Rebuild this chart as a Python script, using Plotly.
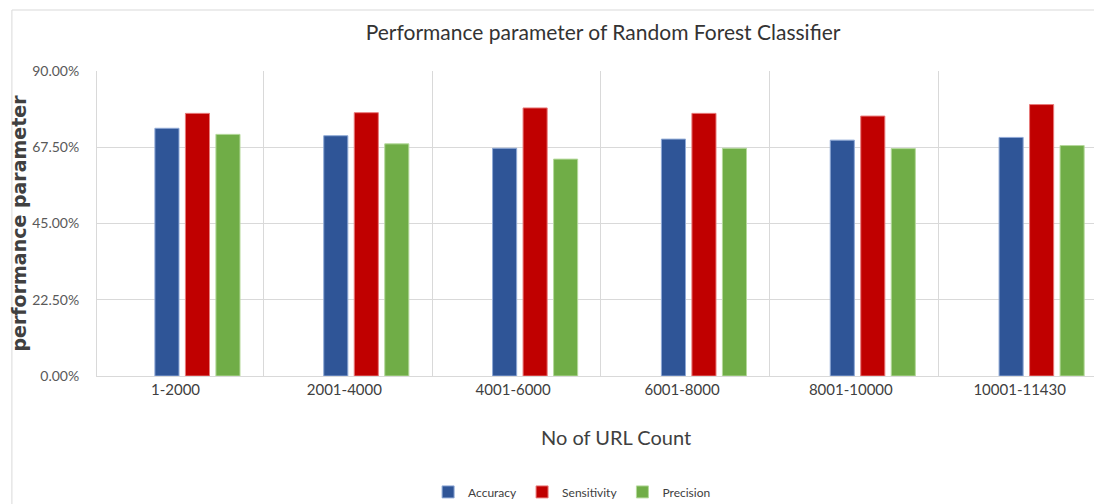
import plotly.graph_objects as go

categories = ["1-2000", "2001-4000", "4001-6000", "6001-8000", "8001-10000", "10001-11430"]
accuracy = [73.1, 70.9, 67.2, 69.9, 69.6, 70.4]
sensitivity = [77.5, 77.7, 79.1, 77.5, 76.7, 80.1]
precision = [71.3, 68.5, 64.0, 67.2, 67.1, 68.0]
y_ticks = [0, 22.5, 45, 67.5, 90]

x = list(range(len(categories)))
shift = 0.11  # bar groups sit slightly right of their labels in the original
fig = go.Figure()
for name, vals, col, edge in [
    ("Accuracy", accuracy, "#2F5597", "#8FA9D6"),
    ("Sensitivity", sensitivity, "#C00000", "#E87A7A"),
    ("Precision", precision, "#70AD47", "#B5D99C"),
]:
    fig.add_trace(go.Bar(x=x, y=vals, name=name, marker=dict(color=col, line=dict(color=edge, width=1))))

fig.update_layout(
    width=1102, height=504,
    margin=dict(l=89, r=0, t=63, b=136),
    paper_bgcolor="white", plot_bgcolor="white",
    barmode="group", bargap=0.458, bargroupgap=0.21,
    font=dict(family="Lato", color="#404040"),
    title=dict(text="Performance parameter of Random Forest Classifier",
               x=0.54, xanchor="center", y=0.952, yanchor="middle",
               font=dict(size=21, color="#333333", family="Lato")),
    legend=dict(orientation="h", x=0.469, xanchor="center", y=-0.38, yanchor="middle",
                font=dict(size=12, color="#404040"), itemwidth=30),
    xaxis=dict(range=[-0.5 - shift + 0.015, 5.5 - shift + 0.015], tickvals=[i - shift - 0.02 for i in x],
               ticktext=categories, showgrid=False,
               tickfont=dict(size=15, color="#404040"), ticks="",
               showline=True, linecolor="#D9D9D9", linewidth=1,
               minor=dict(tickvals=[i - 0.5 - shift for i in x], showgrid=True,
                          gridcolor="#D9D9D9", gridwidth=1, ticks=""),
               zeroline=False),
    yaxis=dict(range=[0, 90], tickvals=y_ticks,
               ticktext=[f"{v:.2f}%" for v in y_ticks],
               tickfont=dict(size=14, color="#595959"),
               showgrid=True, gridcolor="#D9D9D9", gridwidth=1, zeroline=False,
               showline=True, linecolor="#D9D9D9", linewidth=1,
               ticks="", ticklabelstandoff=14,
               title=dict(text="<b>performance parameter</b>",
                          font=dict(size=19, color="#404040", family="DejaVu Sans"), standoff=1)),
)
fig.add_annotation(text="No of URL Count", xref="paper", yref="paper", x=0.512, y=-0.2,
                   xanchor="center", yanchor="middle", showarrow=False,
                   font=dict(size=20, color="#404040", family="Lato"))
fig.add_shape(type="rect", xref="paper", yref="paper", x0=-0.084, x1=1.1, y0=-0.6, y1=1.2,
              line=dict(color="#D9D9D9", width=1), layer="below")
fig.write_html("out.html")
